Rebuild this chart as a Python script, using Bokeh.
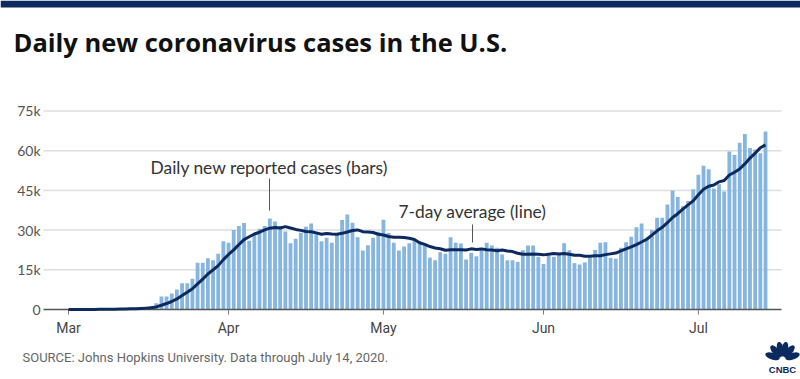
import numpy as np
import pandas as pd
from bokeh.plotting import figure
from bokeh.models import Range1d, Label, Arrow, PolyAnnotation, ColumnDataSource
from bokeh.core.properties import value
from bokeh.embed import file_html
from bokeh.resources import INLINE

# ---------------- data (thousands of new cases per day) ----------------
dates = pd.date_range("2020-03-01", "2020-07-14", freq="D")

cases_mar = [0.01, 0.02, 0.02, 0.03, 0.07, 0.07, 0.10, 0.12, 0.17, 0.24, 0.29, 0.38, 0.45, 0.60, 0.75, 0.90,
             1.3, 2.4, 4.9, 4.9, 6.0, 7.6, 9.9, 9.9, 11.6, 17.7, 17.7, 19.4, 18.6, 21.1, 25.8]
cases_apr = [25.2, 30.0, 31.5, 32.7, 26.0, 28.5, 30.5, 31.5, 34.4, 33.2, 31.5, 29.5, 25.0, 26.7, 29.0,
             31.3, 32.5, 28.6, 25.8, 27.1, 25.2, 28.4, 33.8, 35.9, 32.8, 27.3, 22.3, 24.3, 27.1, 29.4]
cases_may = [33.9, 28.9, 25.2, 22.3, 23.8, 25.0, 26.0, 25.2, 24.6, 19.6, 18.6, 21.6, 21.1, 27.3, 25.2,
             24.9, 18.9, 21.4, 20.1, 22.5, 25.2, 24.2, 23.3, 20.8, 18.6, 18.6, 18.0, 22.4, 24.2, 24.2, 19.9]
cases_jun = [17.2, 20.4, 19.9, 21.3, 25.0, 22.4, 17.5, 17.0, 17.8, 19.7, 22.5, 25.2, 25.4, 19.5, 19.2,
             23.3, 25.4, 27.5, 31.1, 32.5, 26.8, 30.0, 34.7, 34.7, 39.7, 45.0, 42.5, 39.0, 41.0, 45.4]
cases_jul = [50.9, 54.3, 53.0, 45.7, 47.3, 44.6, 59.7, 58.4, 63.0, 66.3, 61.0, 60.4, 59.0, 67.2]

avg_mar = [0.01, 0.02, 0.02, 0.02, 0.03, 0.03, 0.05, 0.06, 0.08, 0.11, 0.15, 0.20, 0.25, 0.32, 0.41, 0.52,
           0.67, 0.97, 1.61, 2.25, 3.02, 4.00, 5.29, 6.51, 7.83, 9.66, 11.49, 13.40, 14.97, 16.57, 18.84]
avg_apr = [20.79, 22.54, 24.51, 26.41, 27.47, 28.53, 29.20, 30.10, 30.73, 30.97, 30.80, 31.30, 30.80, 30.26,
           29.90, 29.46, 29.36, 28.94, 28.41, 28.71, 28.50, 28.41, 28.77, 29.26, 29.86, 30.07, 29.39, 29.26,
           29.07, 28.44]
avg_may = [28.16, 27.60, 27.30, 27.30, 27.23, 26.93, 26.44, 25.20, 24.59, 23.79, 23.26, 22.94, 22.39, 22.57,
           22.57, 22.61, 22.51, 22.91, 22.70, 22.90, 22.60, 22.46, 22.23, 22.50, 22.10, 21.89, 21.24, 20.84,
           20.84, 20.97, 20.84]
avg_jun = [20.64, 20.90, 21.17, 21.01, 21.13, 20.87, 20.53, 20.50, 20.13, 20.10, 20.27, 20.30, 20.73, 21.01,
           21.33, 22.11, 22.93, 23.64, 24.49, 25.50, 26.54, 28.09, 29.71, 31.04, 32.79, 34.77, 36.20, 37.94,
           39.51, 41.04]
avg_jul = [43.36, 45.44, 46.59, 47.04, 48.23, 48.74, 50.79, 51.86, 53.10, 55.00, 57.19, 59.06, 61.11, 62.19]

y_ticks = [0, 15, 30, 45, 60, 75]
y_tick_labels = ["0", "15k", "30k", "45k", "60k", "75k"]
month_ticks = pd.to_datetime(["2020-03-01", "2020-04-01", "2020-05-01", "2020-06-01", "2020-07-01"])
month_labels = ["Mar", "Apr", "May", "Jun", "Jul"]

title_text = "Daily new coronavirus cases in the U.S."
source_text = "SOURCE: Johns Hopkins University. Data through July 14, 2020."
bars_note = "Daily new reported cases (bars)"
line_note = "7-day average (line)"

# ---------------- styles / layout ----------------
BAR = "#86b5df"
NAVY = "#0d2a5f"
GRID = "#dedede"
AXIS = "#555555"
DAY = 86400000.0
W, H = 800, 379
PX_DAY = 5.163          # pixels per day
PX_K = 2.647            # pixels per thousand cases
ORIGIN_X = 68           # canvas x of first day
ORIGIN_Y = H - 309      # canvas px from bottom of y = 0

cases = cases_mar + cases_apr + cases_may + cases_jun + cases_jul
avg7 = avg_mar + avg_apr + avg_may + avg_jun + avg_jul
src = ColumnDataSource(dict(date=dates, cases=cases, avg=avg7))

t0 = dates[0].value / 1e6
x_start = t0 - ORIGIN_X / PX_DAY * DAY
x_end = t0 + (W - ORIGIN_X) / PX_DAY * DAY
y_start = -ORIGIN_Y / PX_K
y_end = (H - ORIGIN_Y) / PX_K
axis_lo = t0 - 25 / PX_DAY * DAY     # plot area left
axis_hi = t0 + 713 / PX_DAY * DAY    # plot area right
tick_len = 5 / PX_K

p = figure(width=W, height=H, x_axis_type="datetime",
           x_range=Range1d(x_start, x_end), y_range=Range1d(y_start, y_end),
           output_backend="svg", toolbar_location=None,
           x_axis_location=None, y_axis_location=None, min_border=0)
p.title.visible = False
p.outline_line_color = None
p.grid.visible = False
p.background_fill_color = "white"
p.border_fill_color = "white"

# gridlines
p.segment(x0=[axis_lo] * 5, x1=[axis_hi] * 5, y0=y_ticks[1:], y1=y_ticks[1:],
          line_color=GRID, line_width=1.5)
# bars
p.vbar(x="date", top="cases", width=0.74 * DAY, source=src, fill_color=BAR, line_color=None)
# x axis line and ticks
p.segment(x0=[axis_lo], x1=[axis_hi], y0=[0], y1=[0], line_color=AXIS, line_width=1.4)
p.segment(x0=month_ticks, x1=month_ticks, y0=[0] * 5, y1=[-tick_len] * 5, line_color="#777777", line_width=1)
# 7-day average line
p.line(x="date", y="avg", source=src, line_color=NAVY, line_width=3, line_join="round")

# tick labels
p.text(x=[axis_lo] * 6, y=y_ticks, text=y_tick_labels, x_offset=-3, text_align="right",
       text_baseline="middle", text_font=value("Lato"), text_font_size=value("14px"), text_color="#555555")
p.text(x=month_ticks, y=[0] * 5, text=month_labels, y_offset=10, text_align="center",
       text_baseline="top", text_font=value("Roboto"), text_font_size=value("14px"), text_color="#444444")

# ---------------- texts (screen coords, canvas, y up) ----------------
def lab(x, y, text, size, color, font="Lato", style="normal", align="left", base="middle"):
    p.add_layout(Label(x=x, y=y, x_units="screen", y_units="screen", text=text,
                       text_font=font, text_font_size=size, text_color=color,
                       text_font_style=style, text_align=align, text_baseline=base))

lab(13, H - 41, title_text, "25.5px", "#111111", font="Open Sans", style="bold", base="alphabetic")
lab(150, H - 167, bars_note, "17.4px", "#333333")
lab(398, H - 211, line_note, "17.4px", "#333333")
lab(22, H - 357, source_text, "13px", "#666666", font="Roboto")

for (xs, y0, y1) in [(269, H - 178, H - 210), (472, H - 224, H - 242)]:
    p.add_layout(Arrow(x_start=xs, y_start=y0, x_end=xs, y_end=y1, start_units="screen",
                       end_units="screen", end=None, line_color="#555555", line_width=1))

# top navy band
p.add_layout(PolyAnnotation(xs=[0, W, W, 0], ys=[H, H, H - 7, H - 7], xs_units="screen",
                            ys_units="screen", fill_color=NAVY, fill_alpha=1, line_color=None))

# CNBC peacock logo (decorative)
cx, cy = 782, H - 359
for ang in [162, 130, 102, 78, 50, 18]:
    a = np.deg2rad(ang)
    t = np.linspace(0, 2 * np.pi, 28)
    u = 10.5 + 7.5 * np.cos(t)
    v = 3.3 * np.sin(t)
    xs = cx + u * np.cos(a) - v * np.sin(a)
    ys = cy + u * np.sin(a) + v * np.cos(a)
    p.add_layout(PolyAnnotation(xs=list(xs), ys=list(ys), xs_units="screen", ys_units="screen",
                                fill_color=NAVY, fill_alpha=1, line_color=None))
lab(782, H - 374, "CNBC", "9.5px", NAVY, font="Liberation Sans", style="bold", align="center", base="bottom")

open("out.html", "w").write(file_html(p, INLINE))
